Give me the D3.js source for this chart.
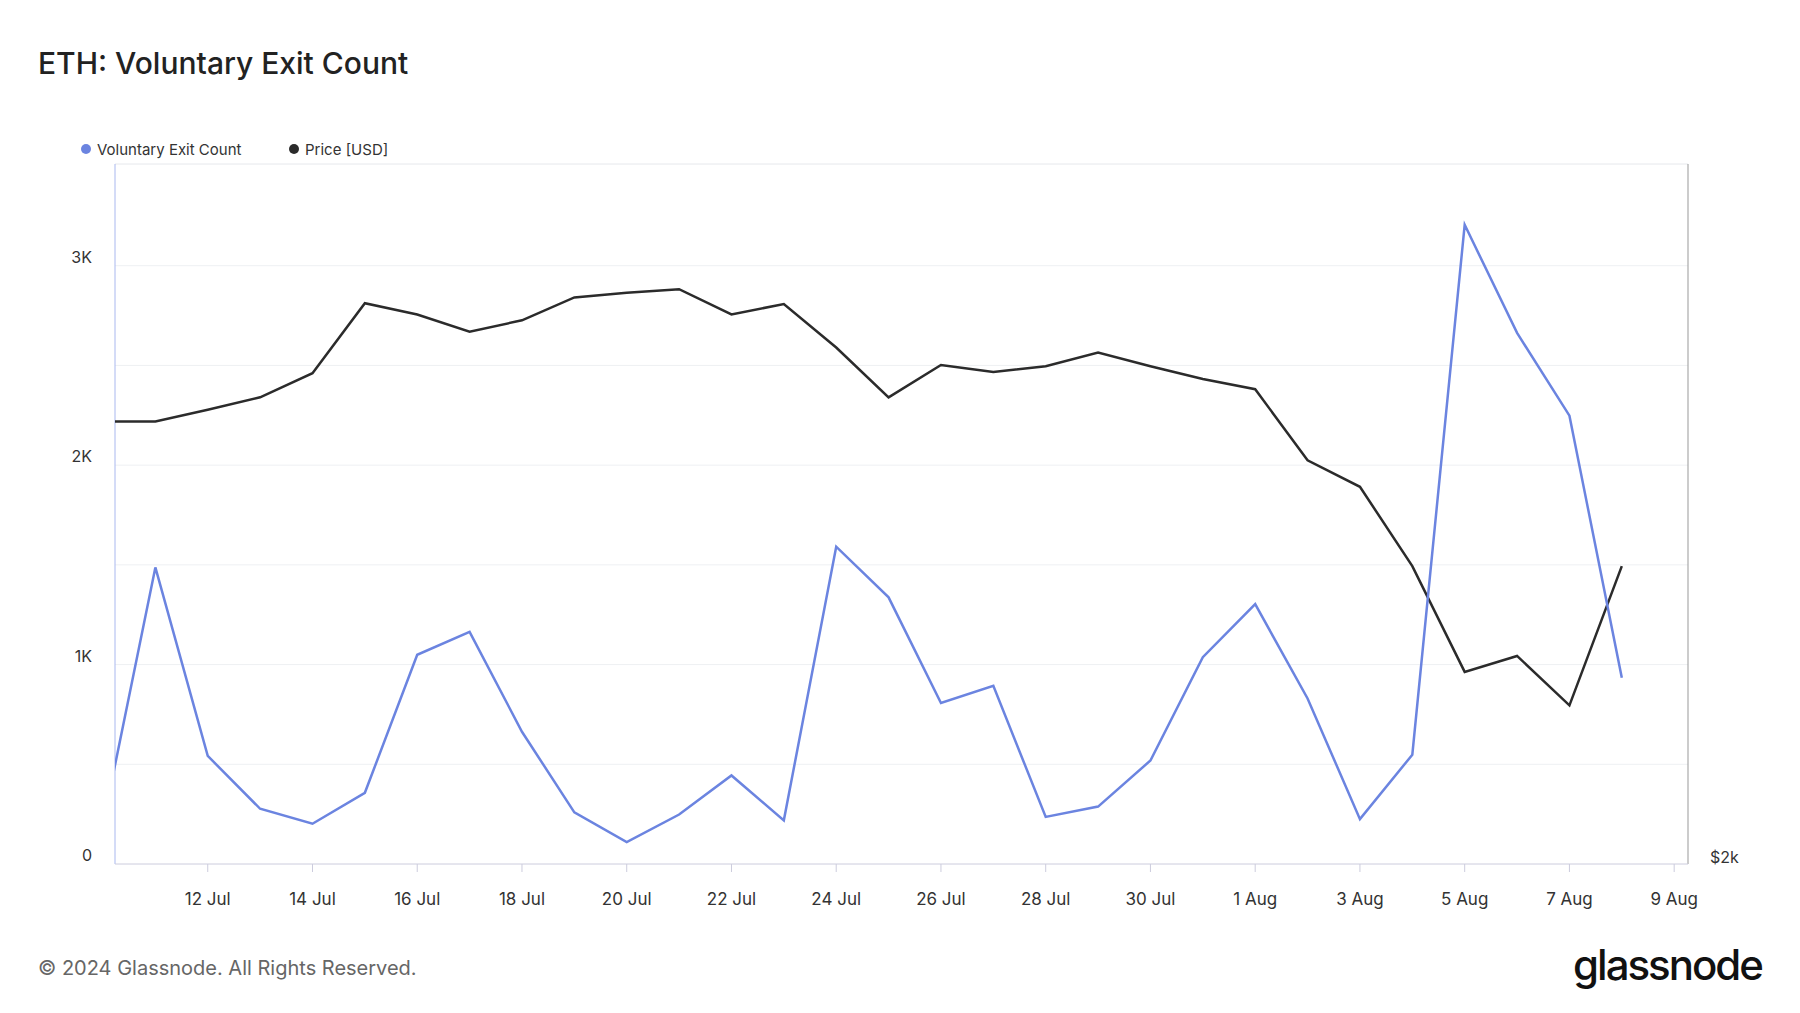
<!DOCTYPE html>
<html><head><meta charset="utf-8">
<script src="https://cdn.jsdelivr.net/npm/d3@7"></script>
<style>
body{margin:0;background:#fff;font-family:Inter,"Noto Sans",sans-serif;}
</style></head>
<body><svg id="c" width="1800" height="1013"></svg>
<script>
// daily values, 10 Jul .. 8 Aug 2024
const startDay = new Date(2024, 6, 10);
const exitCount = [200,1487,542,277,202,357,1049,1164,663,259,110,248,444,219,1591,1337,807,893,236,288,519,1037,1303,830,225,548,3205,2663,2248,934];
const priceUsd = [3138,3138,3168,3200,3262,3442,3413,3369,3398,3457,3469,3478,3413,3440,3328,3200,3283,3265,3280,3315,3280,3247,3221,3038,2970,2766,2494,2535,2408,2766];
const leftTicks = [0,1000,2000,3000];
const leftLabels = ['0','1K','2K','3K'];
const gridVals = [500,1000,1500,2000,2500,3000];
const xTickDates = ['2024-07-12','2024-07-14','2024-07-16','2024-07-18','2024-07-20','2024-07-22','2024-07-24','2024-07-26','2024-07-28','2024-07-30','2024-08-01','2024-08-03','2024-08-05','2024-08-07','2024-08-09'];

const days = exitCount.map((_, i) => d3.timeDay.offset(startDay, i));
const svg = d3.select('#c');
const L = 115, R = 1688, T = 164, B = 864;

const x = d3.scaleTime()
  .domain([new Date(2024, 6, 10, 5, 30), new Date(2024, 7, 9, 6, 20)])
  .range([L, R]);
const y = d3.scaleLinear().domain([0, 3510]).range([B, T]);
const yp = d3.scaleLinear().domain([2000, 3800]).range([B, T]);

svg.append('text').attr('x', 38).attr('y', 74)
  .attr('font-size', 30).attr('font-weight', 500).attr('fill', '#222').text('ETH: Voluntary Exit Count');

// gridlines
svg.append('g').selectAll('line').data(gridVals).join('line')
  .attr('x1', L).attr('x2', R).attr('y1', d => y(d)).attr('y2', d => y(d))
  .attr('stroke', '#eef0f3');
svg.append('line').attr('x1', L).attr('x2', R).attr('y1', T).attr('y2', T).attr('stroke', '#e6e8ec');

// frame
svg.append('line').attr('x1', L).attr('x2', L).attr('y1', T).attr('y2', B).attr('stroke', '#a9b8ef');
svg.append('line').attr('x1', R).attr('x2', R).attr('y1', T).attr('y2', B).attr('stroke', '#999');
svg.append('line').attr('x1', L).attr('x2', R).attr('y1', B).attr('y2', B).attr('stroke', '#ccd');

// left labels
svg.append('g').selectAll('text').data(leftTicks).join('text')
  .attr('x', 92).attr('y', d => y(d) - 3).attr('text-anchor', 'end')
  .attr('font-size', 16).attr('fill', '#333')
  .text((d, i) => leftLabels[i]);
svg.append('text').attr('x', 1710).attr('y', B - 1).attr('font-size', 16).attr('fill', '#333').text('$2k');

// x axis
const xt = xTickDates.map(s => d3.timeParse('%Y-%m-%d')(s));
const fmt = d3.timeFormat('%-d %b');
svg.append('g').selectAll('line').data(xt).join('line')
  .attr('x1', d => x(d)).attr('x2', d => x(d)).attr('y1', B).attr('y2', B + 8).attr('stroke', '#ccd');
svg.append('g').selectAll('text').data(xt).join('text')
  .attr('x', d => x(d)).attr('y', 905).attr('text-anchor', 'middle')
  .attr('font-size', 17).attr('fill', '#333').text(d => fmt(d));

// lines
svg.append('clipPath').attr('id', 'clip').append('rect')
  .attr('x', L).attr('y', T).attr('width', R - L).attr('height', B - T);
const g = svg.append('g').attr('clip-path', 'url(#clip)');
g.append('path').datum(priceUsd)
  .attr('d', d3.line().x((d, i) => x(days[i])).y(d => yp(d)))
  .attr('fill', 'none').attr('stroke', '#2b2b2b').attr('stroke-width', 2.5);
g.append('path').datum(exitCount)
  .attr('d', d3.line().x((d, i) => x(days[i])).y(d => y(d)))
  .attr('fill', 'none').attr('stroke', '#6b84e0').attr('stroke-width', 2.5);

// legend
const leg = [{n: 'Voluntary Exit Count', c: '#6b84e0', x: 86}, {n: 'Price [USD]', c: '#2b2b2b', x: 294}];
const lg = svg.append('g').selectAll('g').data(leg).join('g');
lg.append('circle').attr('cx', d => d.x).attr('cy', 149).attr('r', 5).attr('fill', d => d.c);
lg.append('text').attr('x', d => d.x + 11).attr('y', 155).attr('font-size', 15).attr('fill', '#333').text(d => d.n);

// footer
svg.append('text').attr('x', 38).attr('y', 975).attr('font-size', 20).attr('fill', '#666')
  .text('© 2024 Glassnode. All Rights Reserved.');
svg.append('text').attr('x', 1762).attr('y', 980).attr('text-anchor', 'end')
  .attr('font-size', 42).attr('font-weight', 500).attr('letter-spacing', -2).attr('fill', '#111').text('glassnode');
</script></body></html>
